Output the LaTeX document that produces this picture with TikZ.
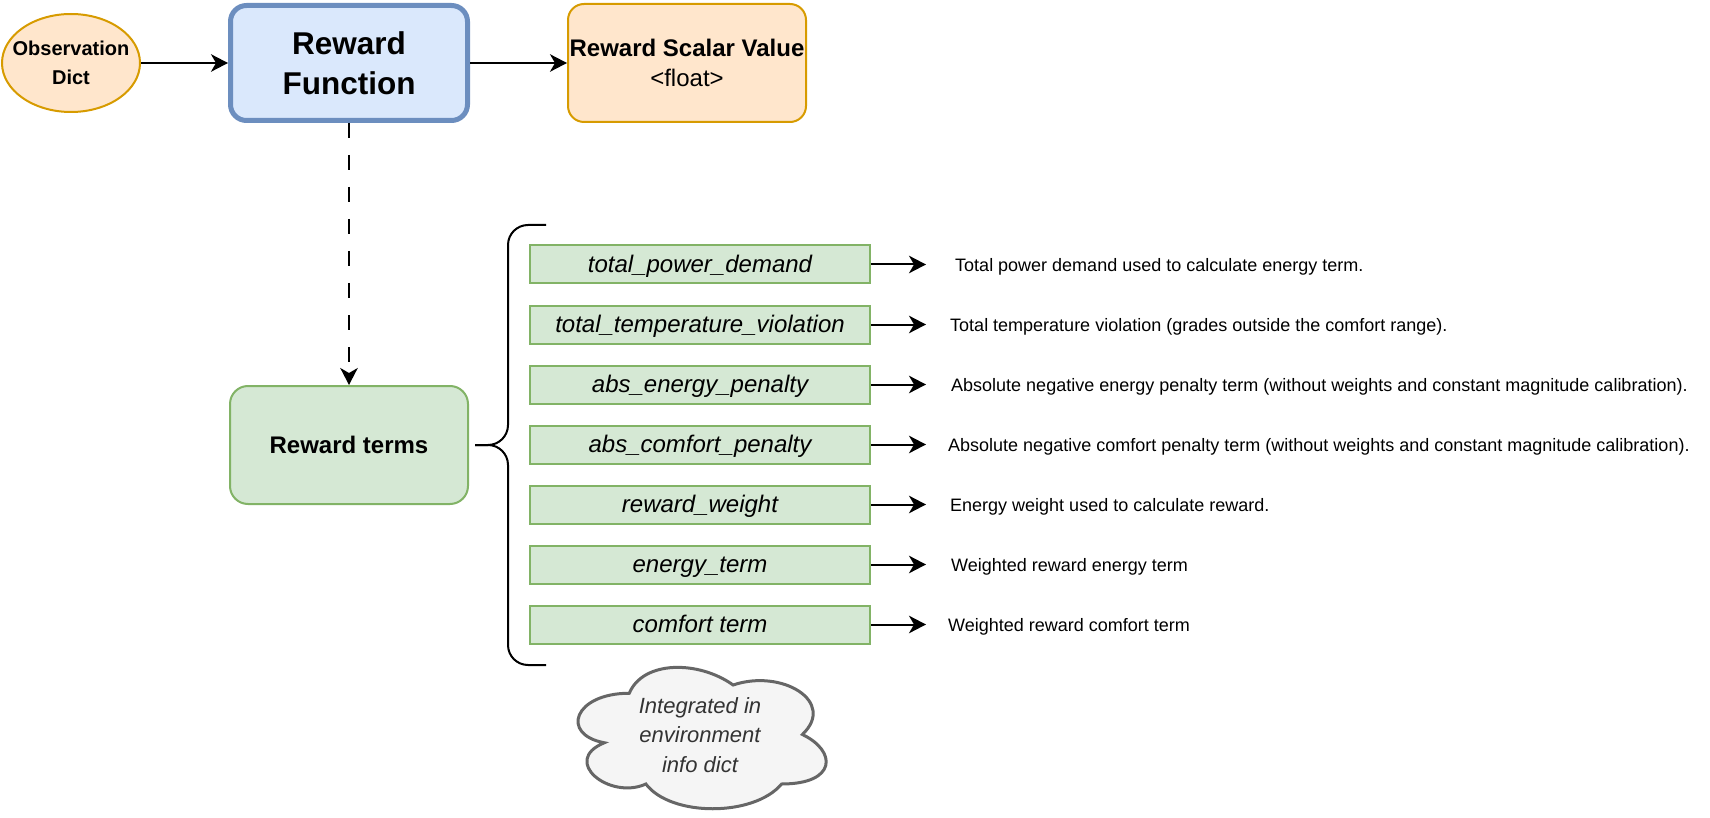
\documentclass[tikz,border=0pt]{standalone}
\usepackage{fontspec}
\setmainfont{Liberation Sans}
\usetikzlibrary{arrows.meta,shapes.geometric}

\definecolor{obsFill}{HTML}{FFE6CC}
\definecolor{obsLine}{HTML}{D79B00}
\definecolor{rfFill}{HTML}{DAE8FC}
\definecolor{rfLine}{HTML}{6C8EBF}
\definecolor{termFill}{HTML}{D5E8D4}
\definecolor{termLine}{HTML}{82B366}
\definecolor{cloudFill}{HTML}{F5F5F5}
\definecolor{cloudLine}{HTML}{666666}
\definecolor{cloudText}{HTML}{333333}

\tikzset{
	arr/.style={line width=2pt, -{Stealth[length=17pt, width=17.5pt, inset=5pt]}},
	termbox/.style={draw=termLine, fill=termFill, line width=2pt, minimum width=340pt, minimum height=38pt, inner sep=0pt, text height=19.5pt, text depth=3pt, font=\fontsize{24}{29}\selectfont\itshape},
	desc/.style={anchor=west, inner sep=0pt, font=\fontsize{18}{22}\selectfont},
}

\begin{document}
\begin{tikzpicture}[x=1pt, y=-1pt]
		\useasboundingbox (0,0) rectangle (1710,818);
		
		% 1. Observation Dict (Ellipse - Orange)
		\node[ellipse, draw=obsLine, fill=obsFill, line width=2pt, minimum width=138pt, minimum height=98pt, inner xsep=-10pt, inner ysep=0pt, align=center, font=\fontsize{20}{29.5}\selectfont\bfseries] (obs) at (71,63) {Observation\\Dict};
		
		% 2. Reward Function (Box - Blue)
		\node[draw=rfLine, fill=rfFill, line width=5pt, rounded corners=16pt, minimum width=237pt, minimum height=115pt, align=center, font=\fontsize{31.5}{40}\selectfont\bfseries] (rf) at (349,63) {Reward\\Function};
		
		% 3. Reward Scalar Value (Box - Orange)
		\node[draw=obsLine, fill=obsFill, line width=2pt, rounded corners=16pt, minimum width=238pt, minimum height=118pt, inner sep=0pt, align=center, font=\fontsize{24}{30.5}\selectfont] (rsv) at (687,63) {\textbf{Reward Scalar Value}\\<float>};
		
		% 4. Reward terms (Box - Green)
		\node[draw=termLine, fill=termFill, line width=2pt, rounded corners=18pt, minimum width=238pt, minimum height=118pt, font=\fontsize{24}{29}\selectfont\bfseries] (terms) at (349,445) {Reward terms};
		
		% --- Main flow ---
		\draw[arr] (obs) -- (rf);
		\draw[arr] (rf) -- (rsv);
		\draw[arr, dash pattern=on 15pt off 17pt] (rf.south) -- (terms.north);
		
		% --- Curly brace grouping the terms ---
		\draw[line width=2pt, rounded corners=20pt] (546,225) -| (508,445) -- (475,445);
		\draw[line width=2pt, rounded corners=20pt] (475,445) -| (508,665) -- (546,665);
		
		% --- Term boxes (Green, italic) ---
		\node[termbox] (t1) at (700,264.5) {total\_power\_demand};
		\node[termbox] (t2) at (700,324.5) {total\_temperature\_violation};
		\node[termbox] (t3) at (700,384.5) {abs\_energy\_penalty};
		\node[termbox] (t4) at (700,444.5) {abs\_comfort\_penalty};
		\node[termbox] (t5) at (700,504.5) {reward\_weight};
		\node[termbox] (t6) at (700,564.5) {energy\_term};
		\node[termbox] (t7) at (700,624.5) {comfort term};
		
		% --- Arrow ends ---
		\coordinate (e1) at (926,264.5);
		\coordinate (e2) at (926,324.5);
		\coordinate (e3) at (926,384.5);
		\coordinate (e4) at (926,444.5);
		\coordinate (e5) at (926,504.5);
		\coordinate (e6) at (926,564.5);
		\coordinate (e7) at (926,624.5);
		\draw[arr] (t1.east) -- (e1);
		\draw[arr] (t2.east) -- (e2);
		\draw[arr] (t3.east) -- (e3);
		\draw[arr] (t4.east) -- (e4);
		\draw[arr] (t5.east) -- (e5);
		\draw[arr] (t6.east) -- (e6);
		\draw[arr] (t7.east) -- (e7);
		
		% --- Descriptions ---
		\node[desc] (d1) at (955,267) {Total power demand used to calculate energy term.};
		\node[desc] (d2) at (950,327) {Total temperature violation (grades outside the comfort range).};
		\node[desc] (d3) at (951,387) {Absolute negative energy penalty term (without weights and constant magnitude calibration).};
		\node[desc] (d4) at (948,447) {Absolute negative comfort penalty term (without weights and constant magnitude calibration).};
		\node[desc] (d5) at (950,507) {Energy weight used to calculate reward.};
		\node[desc] (d6) at (951,567) {Weighted reward energy term};
		\node[desc] (d7) at (948,627) {Weighted reward comfort term};
		
		% 5. Cloud (Gray)
		\begin{scope}[shift={(560,652)}, x=277pt, y=-165pt]
			\draw[draw=cloudLine, fill=cloudFill, line width=3pt] (0.25,0.25) .. controls (0.05,0.25) and (0,0.5) .. (0.16,0.55) .. controls (0,0.66) and (0.18,0.9) .. (0.31,0.8) .. controls (0.4,1) and (0.7,1) .. (0.8,0.8) .. controls (1,0.8) and (1,0.6) .. (0.875,0.5) .. controls (1,0.3) and (0.8,0.1) .. (0.625,0.2) .. controls (0.5,0.05) and (0.3,0.05) .. (0.25,0.25) -- cycle;
		\end{scope}
		\node[text=cloudText, align=center, font=\fontsize{22}{29.5}\selectfont\itshape] (info) at (700,735) {Integrated in\\environment\\info dict};
		
	\end{tikzpicture}
\end{document}
